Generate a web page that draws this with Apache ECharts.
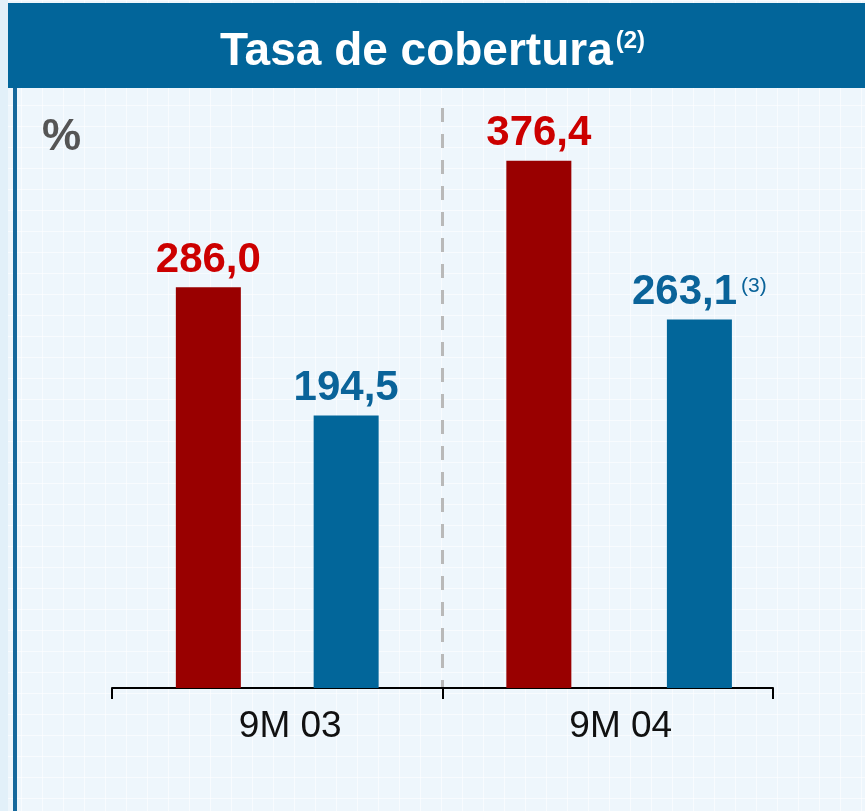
<!DOCTYPE html>
<html><head><meta charset="utf-8">
<script src="https://cdn.jsdelivr.net/npm/echarts@6/dist/echarts.min.js"></script>
<style>
html,body{margin:0;padding:0;background:#e6f2fa;}
#c{width:865px;height:811px;
background-color:#eef6fc;
background-image:linear-gradient(rgba(255,255,255,0.6) 1px,transparent 1px),linear-gradient(90deg,rgba(255,255,255,0.6) 1px,transparent 1px);
background-size:21px 21px;}
</style></head>
<body><div id="c"></div>
<script>
const categories = ['9M 03', '9M 04'];
const redValues = [286.0, 376.4];
const blueValues03 = [194.5, '-'];
const blueValues04 = ['-', 263.1];
const labelNotes = ['', '(3)'];

const chart = echarts.init(document.getElementById('c'), null, {renderer:'canvas'});
const fmt = v => String(v.toFixed(1)).replace('.', ',');
const FF = 'Liberation Sans, Arial';
const labelBase = {show:true, position:'top', distance:6, fontFamily:FF, fontWeight:'bold', fontSize:42};
chart.setOption({
  animation:false,
  backgroundColor:'transparent',
  title:{
    text:'{t|Tasa de cobertura}{s|(2)}',
    left:'center', top:20,
    textStyle:{rich:{
      t:{color:'#fff', fontSize:46, fontWeight:'bold', fontFamily:FF, verticalAlign:'bottom', lineHeight:50},
      s:{color:'#fff', fontSize:24, fontWeight:'bold', fontFamily:FF, verticalAlign:'top', lineHeight:50, padding:[4,0,0,3]}
    }}
  },
  graphic:[
    {type:'rect', z:-1, shape:{x:8, y:3, width:857, height:85}, style:{fill:'#02659a'}},
    {type:'rect', z:-1, shape:{x:0, y:0, width:8, height:811}, style:{fill:'#e2f0f9'}},
    {type:'rect', z:-1, shape:{x:13, y:88, width:4, height:723}, style:{fill:'#15689c'}},
    {type:'text', left:42, top:116, style:{text:'%', fill:'#555', font:'bold 44px Liberation Sans, Arial'}}
  ],
  grid:{left:112, right:92, top:108, bottom:123},
  xAxis:[
    {type:'category', data:categories,
     axisLine:{lineStyle:{color:'#000', width:2}},
     axisTick:{show:true, length:11, lineStyle:{color:'#000', width:2}},
     axisLabel:{color:'#111', fontSize:37, fontFamily:FF, margin:20, padding:[0,0,0,26]},
     splitLine:{show:true, showMinLine:false, showMaxLine:false, lineStyle:{color:'#b9b9b9', width:3, type:[14,12]}}
    },
    {type:'category', data:categories, show:false}
  ],
  yAxis:{type:'value', min:0, max:414, show:false, splitLine:{show:false}},
  series:[
    {type:'bar', name:'red', xAxisIndex:0, data:redValues, barWidth:65, barGap:'112%',
     itemStyle:{color:'#990000'},
     label:Object.assign({}, labelBase, {color:'#cc0000', formatter:p=>fmt(p.value)})},
    {type:'bar', name:'blue03', xAxisIndex:0, data:blueValues03, barWidth:65, barGap:'112%',
     itemStyle:{color:'#02669a'},
     label:Object.assign({}, labelBase, {color:'#0a6399', formatter:p=>fmt(p.value)})},
    {type:'bar', name:'spacer', xAxisIndex:1, data:['-','-'], barWidth:65, barGap:'182%'},
    {type:'bar', name:'blue04', xAxisIndex:1, data:blueValues04, barWidth:65, barGap:'182%',
     itemStyle:{color:'#02669a'},
     label:Object.assign({}, labelBase, {color:'#0a6399',
       formatter:p=>'{a|'+fmt(p.value)+'}{s|'+labelNotes[p.dataIndex]+'}',
       rich:{
         a:{fontSize:42, fontWeight:'bold', color:'#0a6399', fontFamily:FF, lineHeight:46, verticalAlign:'bottom'},
         s:{fontSize:21, fontWeight:'normal', color:'#0a6399', fontFamily:FF, lineHeight:46, verticalAlign:'top', padding:[8,0,0,4]}
       }})}
  ]
});
</script></body></html>
